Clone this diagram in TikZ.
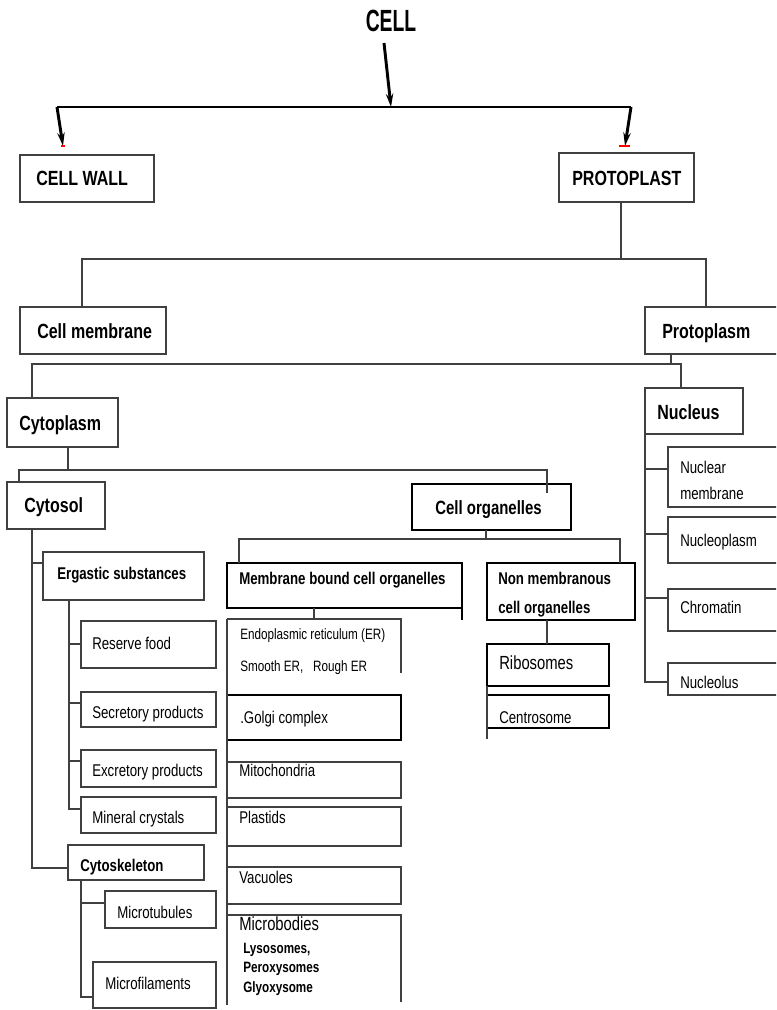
\documentclass[tikz,border=0pt]{standalone}
\usepackage{fontspec}
\setmainfont{Liberation Sans}
\newfontfamily\nf[FakeStretch=0.78]{Liberation Sans}
\newfontfamily\tf[FakeStretch=0.63]{Liberation Sans}
\usetikzlibrary{arrows.meta}
\tikzset{
  bx/.style={draw=black!75, line width=1.1pt, inner sep=0pt, outer sep=0pt},
  tb/.style={bx, draw=black, line width=1.5pt},
  nb/.style={bx, draw=none},
  ln/.style={draw=black!75, line width=1.1pt},
  thk/.style={draw=black, line width=1.9pt},
  arr/.style={draw=black, line width=2.2pt, -{Stealth[length=10pt,width=5.5pt]}},
  lbl/.style={anchor=base west, inner sep=0pt, yshift=-4.6pt, font=\nf\fontsize{12.75}{14}\selectfont},
  hd/.style={anchor=base west, inner sep=0pt, yshift=-5.5pt, font=\nf\bfseries\fontsize{15.4}{17}\selectfont},
  sh/.style={anchor=base west, inner sep=0pt, yshift=-4.6pt, font=\nf\bfseries\fontsize{12.75}{14}\selectfont},
  sm/.style={anchor=base west, inner sep=0pt, yshift=-4.0pt, font=\nf\fontsize{11.25}{13}\selectfont},
  smb/.style={anchor=base west, inner sep=0pt, yshift=-4.0pt, font=\nf\bfseries\fontsize{11.25}{13}\selectfont},
  big/.style={anchor=base west, inner sep=0pt, yshift=-5.1pt, font=\nf\fontsize{14.25}{16}\selectfont},
  ttl/.style={anchor=base, inner sep=0pt, yshift=-8.2pt, font=\tf\bfseries\fontsize{23}{25}\selectfont}
}
\newcommand\bxn[6][bx]{\node[#1,minimum width={(#4-#2)*0.75pt},minimum height={(#5-#3)*0.75pt}] (#6) at ({(#2+#4)/2},{(#3+#5)/2}) {};}
\begin{document}
\begin{tikzpicture}[x=0.75pt,y=-0.75pt]
\useasboundingbox (0,0) rectangle (776,1010);
\clip (0,0) rectangle (776,1010);
% ---------- boxes ----------
\bxn{20}{155}{154}{202}{cellwall}
\bxn{559}{153}{694}{202}{protoplast}
\bxn{20}{307}{166}{354}{cellmem}
\bxn{645}{307}{800}{354}{protoplasm}
\bxn{7}{398}{118}{447}{cytoplasm}
\bxn{645}{388}{743}{434}{nucleus}
\bxn{7}{482}{105}{529}{cytosol}
\bxn[tb]{412}{484}{571}{530}{cellorg}
\bxn{43}{552}{204}{600}{ergastic}
\bxn{81}{621}{216}{668}{reserve}
\bxn{81}{692}{216}{727}{secretory}
\bxn{81}{750}{216}{787}{excretory}
\bxn{81}{797}{216}{833}{mineral}
\bxn{68}{845}{204}{880}{cytoskel}
\bxn{105}{891}{216}{928}{microtub}
\bxn{93}{962}{216}{1008}{microfil}
\bxn[tb]{227}{563}{462}{608}{membound}
\bxn[tb]{487}{563}{635}{620}{nonmem}
\bxn[nb]{227}{619}{401}{673}{er}
\bxn[tb]{227}{695}{401}{740}{golgi}
\bxn{227}{762}{401}{798}{mito}
\bxn{227}{807}{401}{846}{plastids}
\bxn{227}{867}{401}{904}{vacuoles}
\bxn[nb]{227}{915}{401}{1002}{microbodies}
\bxn[tb]{487}{644}{609}{686}{ribosomes}
\bxn[tb]{487}{695}{609}{728}{centrosome}
\bxn{668}{447}{800}{507}{nucmem}
\bxn{668}{517}{800}{563}{nucleoplasm}
\bxn{668}{589}{800}{631}{chromatin}
\bxn{668}{663}{800}{695}{nucleolus}
% open boxes
\draw[ln] (er.north west) -- (er.north east) -- (er.south east);
\draw[ln] (microbodies.north west) -- (microbodies.north east) -- (microbodies.south east);
\draw[ln] (er.north west) -- ([yshift=-3*0.75pt]microbodies.south west);
\draw[tb] (membound.south east) -- ++(0,12);
% ---------- texts ----------
\node[ttl] (tcell) at (391,21) {CELL};
\node[hd] (tcw) at (36,178) {CELL WALL};
\node[hd] (tpp) at (572,178) {PROTOPLAST};
\node[hd] (tcm) at (37,331) {Cell membrane};
\node[hd] (tpl) at (662,331) {Protoplasm};
\node[hd] (tcy) at (19,423) {Cytoplasm};
\node[hd] (tnu) at (657,412) {Nucleus};
\node[hd] (tcs) at (24,505) {Cytosol};
\node[hd, font=\nf\bfseries\fontsize{14.4}{16}\selectfont] (tco) at (435,507) {Cell organelles};
\node[sh] (ter) at (57,573) {Ergastic substances};
\node[sh] (tmb) at (239,578) {Membrane bound cell organelles};
\node[sh] (tnm1) at (498,578) {Non membranous};
\node[sh] (tnm2) at (498,607) {cell organelles};
\node[sh] (tck) at (80,865) {Cytoskeleton};
\node[lbl] (trf) at (92,643) {Reserve food};
\node[lbl] (tsp) at (92,712) {Secretory products};
\node[lbl] (tep) at (92,770) {Excretory products};
\node[lbl] (tmc) at (92,817) {Mineral crystals};
\node[lbl] (tmt) at (117,912) {Microtubules};
\node[lbl] (tmf) at (105,983) {Microfilaments};
\node[sm] (ter1) at (240,634) {Endoplasmic reticulum (ER)};
\node[sm] (ter2) at (240,666) {Smooth ER,~~ Rough ER};
\node[lbl] (tgo) at (240,717) {.Golgi complex};
\node[lbl] (tmi) at (239,770) {Mitochondria};
\node[lbl] (tpa) at (239,817) {Plastids};
\node[lbl] (tva) at (239,877) {Vacuoles};
\node[big] (tmo) at (239,924) {Microbodies};
\node[smb] (tly) at (243,948) {Lysosomes,};
\node[smb] (tpe) at (243,967) {Peroxysomes};
\node[smb] (tgl) at (243,987) {Glyoxysome};
\node[big] (tri) at (499,663) {Ribosomes};
\node[lbl] (tce) at (499,717) {Centrosome};
\node[lbl] (tnm) at (680,467) {Nuclear};
\node[lbl] (tnm3) at (680,493) {membrane};
\node[lbl] (tnp) at (680,540) {Nucleoplasm};
\node[lbl] (tch) at (680,607) {Chromatin};
\node[lbl] (tnl) at (680,682) {Nucleolus};
% ---------- connectors ----------
\coordinate (a0) at (384,43);
\coordinate (j0) at (391,107);
\coordinate (j0l) at (57,107);
\coordinate (j0r) at (631,107);
\coordinate (t1) at (63,146);
\coordinate (t2) at (625,146);
\draw[arr] (a0) -- (j0);
\draw[thk] (j0l) -- (j0r);
\draw[arr] (j0l) -- (t1);
\draw[arr] (j0r) -- (t2);
\draw[red, line width=1pt] ([xshift=-1.5pt]t1) -- ([xshift=1.5pt]t1);
\draw[red, line width=1pt] ([xshift=-4.5pt]t2) -- ([xshift=3.5pt]t2);
% protoplast
\coordinate (j1) at (621,259);
\coordinate (j1l) at (82,259);
\coordinate (j1r) at (706,259);
\draw[ln] (j1 |- protoplast.south) -- (j1);
\draw[ln] (j1l |- cellmem.north) -- (j1l) -- (j1r) -- (j1r |- protoplasm.north);
% protoplasm
\coordinate (j2) at (671,364);
\coordinate (j2l) at (32,364);
\coordinate (j2r) at (681,364);
\draw[ln] (j2 |- protoplasm.south) -- (j2);
\draw[ln] (j2l |- cytoplasm.north) -- (j2l) -- (j2r) -- (j2r |- nucleus.north);
% cytoplasm
\coordinate (j3) at (68,470);
\coordinate (j3l) at (19,470);
\coordinate (j3r) at (547,470);
\coordinate (j3e) at (547,493);
\draw[ln] (j3 |- cytoplasm.south) -- (j3);
\draw[ln] (j3l |- cytosol.north) -- (j3l) -- (j3r) -- (j3e);
% cytosol
\coordinate (c1) at (32,868);
\coordinate (c2) at (32,563);
\draw[ln] (c1 |- cytosol.south) -- (c1) -- (c1 -| cytoskel.west);
\draw[ln] (c2) -- (c2 -| ergastic.west);
% ergastic
\coordinate (e1) at (69,644);
\coordinate (e2) at (69,703);
\coordinate (e3) at (69,761);
\coordinate (e4) at (69,809);
\draw[ln] (e4 |- ergastic.south) -- (e4) -- (e4 -| mineral.west);
\draw[ln] (e1) -- (e1 -| reserve.west);
\draw[ln] (e2) -- (e2 -| secretory.west);
\draw[ln] (e3) -- (e3 -| excretory.west);
% cytoskeleton
\coordinate (k1) at (81,903);
\coordinate (k2) at (81,997);
\draw[ln] (k2 |- cytoskel.south) -- (k2) -- (k2 -| microfil.west);
\draw[ln] (k1) -- (k1 -| microtub.west);
% cell organelles
\coordinate (o1) at (486,539);
\coordinate (o1l) at (239,539);
\coordinate (o1r) at (620,539);
\draw[ln] (o1 |- cellorg.south) -- (o1);
\draw[ln] (o1l |- membound.north) -- (o1l) -- (o1r) -- (o1r |- nonmem.north);
% membrane bound
\coordinate (m1) at (314,600);
\draw[ln] (m1 |- membound.south) -- (m1 |- er.north);
% non membranous
\coordinate (n1) at (547,630);
\draw[ln] (n1 |- nonmem.south) -- (n1 |- ribosomes.north);
\coordinate (r1) at (487,739);
\draw[ln] (r1 |- ribosomes.south) -- (r1);
% nucleus
\coordinate (u1) at (645,469);
\coordinate (u2) at (645,534);
\coordinate (u3) at (645,598);
\coordinate (u4) at (645,682);
\draw[ln] (u4 |- nucleus.south) -- (u4) -- (u4 -| nucleolus.west);
\draw[ln] (u1) -- (u1 -| nucmem.west);
\draw[ln] (u2) -- (u2 -| nucleoplasm.west);
\draw[ln] (u3) -- (u3 -| chromatin.west);
\end{tikzpicture}
\end{document}
